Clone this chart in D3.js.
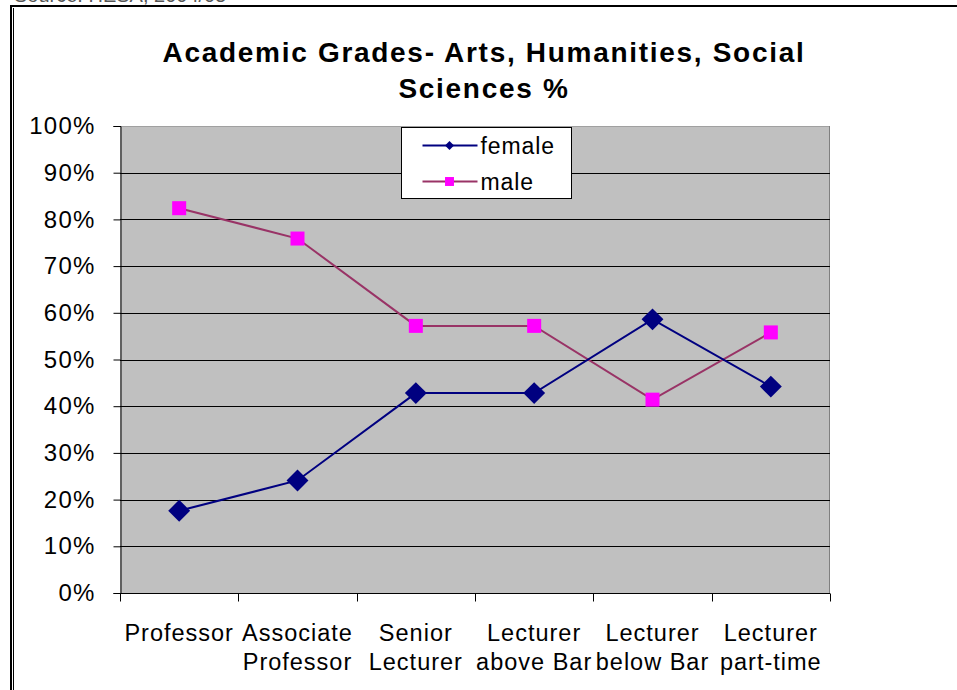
<!DOCTYPE html>
<html>
<head>
<meta charset="utf-8">
<script src="https://cdn.jsdelivr.net/npm/d3@7"></script>
<style>
  body { margin: 0; background: #fff; }
  svg { display: block; font-family: Arial, "Liberation Sans", sans-serif; }
</style>
</head>
<body>
<svg id="chart"></svg>
<script>
// Data
var categories = [["Professor"], ["Associate", "Professor"], ["Senior", "Lecturer"],
    ["Lecturer", "above Bar"], ["Lecturer", "below Bar"], ["Lecturer", "part-time"]]
var female = [17.6, 24.1, 42.8, 42.8, 58.6, 44.2]
var male = [82.4, 75.9, 57.2, 57.2, 41.4, 55.8]
var yTicks = [0, 10, 20, 30, 40, 50, 60, 70, 80, 90, 100]

// Size
var svgWidth = 957, svgHeight = 690
var plot = { left: 120, right: 830, top: 126, bottom: 593 }

var svg = d3.select('#chart')
    .attr("width", svgWidth)
    .attr("height", svgHeight)

// cut off source line and frame
svg.append("text")
    .attr("x", 14).attr("y", 2)
    .attr("font-size", 20).attr("fill", "#555")
    .text("Source: HESA, 2004/05")
svg.append("line").attr("x1", 10).attr("x2", svgWidth).attr("y1", 6).attr("y2", 6)
    .attr("stroke", "#000").attr("stroke-width", 2)
svg.append("line").attr("x1", 11).attr("x2", 11).attr("y1", 5).attr("y2", svgHeight)
    .attr("stroke", "#000").attr("stroke-width", 2)
svg.append("line").attr("x1", 13.5).attr("x2", 13.5).attr("y1", 8).attr("y2", svgHeight)
    .attr("stroke", "#000").attr("stroke-width", 1)

// Scales
var x = d3.scaleBand()
    .domain(d3.range(categories.length))
    .range([plot.left, plot.right])
var y = d3.scaleLinear()
    .domain([0, 100])
    .range([plot.bottom, plot.top])

// Plot area
svg.append("rect")
    .attr("x", plot.left).attr("y", plot.top)
    .attr("width", plot.right - plot.left).attr("height", plot.bottom - plot.top)
    .attr("fill", "#c0c0c0")
svg.append("line").attr("x1", plot.left).attr("x2", plot.right)
    .attr("y1", plot.top + 0.5).attr("y2", plot.top + 0.5).attr("stroke", "#a0a0a0")
svg.append("line").attr("x1", plot.right - 0.5).attr("x2", plot.right - 0.5)
    .attr("y1", plot.top).attr("y2", plot.bottom).attr("stroke", "#808080")

// Gridlines
svg.selectAll(".grid")
    .data(yTicks.filter((d) => d > 0 && d < 100))
    .enter()
    .append("line")
    .attr("class", "grid")
    .attr("x1", plot.left).attr("x2", plot.right)
    .attr("y1", (d) => Math.round(y(d)) + 0.5)
    .attr("y2", (d) => Math.round(y(d)) + 0.5)
    .attr("stroke", "#000")

// Y axis
var yAxis = d3.axisLeft(y)
    .tickValues(yTicks)
    .tickSize(7)
    .tickPadding(18)
    .tickFormat((d) => d + "%")
var gy = svg.append("g")
    .attr("transform", "translate(" + (plot.left + 0.5) + ",0)")
    .call(yAxis)
gy.selectAll("text").attr("font-size", 24).attr("letter-spacing", 1.2).attr("fill", "#000")
    .attr("font-family", "Arial, 'Liberation Sans', sans-serif")
gy.selectAll("line").attr("stroke", "#000")
gy.select(".domain").attr("stroke", "#000")

// X axis
var gx = svg.append("g")
    .attr("transform", "translate(0," + (plot.bottom + 0.5) + ")")
gx.append("line")
    .attr("x1", plot.left).attr("x2", plot.right)
    .attr("stroke", "#000")
gx.selectAll(".xtick")
    .data(d3.range(categories.length + 1))
    .enter()
    .append("line")
    .attr("class", "xtick")
    .attr("x1", (d) => Math.round(plot.left + d * x.step()) + 0.5)
    .attr("x2", (d) => Math.round(plot.left + d * x.step()) + 0.5)
    .attr("y1", 0).attr("y2", 8)
    .attr("stroke", "#000")

var labels = svg.selectAll(".xlabel")
    .data(categories)
    .enter()
    .append("text")
    .attr("class", "xlabel")
    .attr("text-anchor", "middle")
    .attr("font-size", 23.5)
    .attr("letter-spacing", 1)
    .attr("fill", "#000")
labels.selectAll("tspan")
    .data((d, i) => d.map((t, j) => ({ t: t, j: j, i: i })))
    .enter()
    .append("tspan")
    .attr("x", (d) => x(d.i) + x.bandwidth() / 2)
    .attr("y", (d) => 641 + d.j * 29)
    .text((d) => d.t)

// Lines
var line = d3.line()
    .x((d, i) => x(i) + x.bandwidth() / 2)
    .y((d) => y(d))

svg.append("path").datum(male)
    .attr("d", line).attr("fill", "none")
    .attr("stroke", "#993366").attr("stroke-width", 2)
svg.append("path").datum(female)
    .attr("d", line).attr("fill", "none")
    .attr("stroke", "#000080").attr("stroke-width", 2)

// Markers
var diamond = d3.symbol().type(d3.symbolSquare).size(240)
svg.selectAll(".fmark")
    .data(female)
    .enter()
    .append("path")
    .attr("class", "fmark")
    .attr("d", diamond)
    .attr("fill", "#000080")
    .attr("transform", (d, i) => "translate(" + (x(i) + x.bandwidth() / 2) + "," + y(d) + ") rotate(45)")

svg.selectAll(".mmark")
    .data(male)
    .enter()
    .append("rect")
    .attr("class", "mmark")
    .attr("x", (d, i) => x(i) + x.bandwidth() / 2 - 7)
    .attr("y", (d) => y(d) - 7)
    .attr("width", 14).attr("height", 14)
    .attr("fill", "#ff00ff")

// Title
var title = svg.append("text")
    .attr("text-anchor", "middle")
    .attr("font-size", 28)
    .attr("font-weight", "bold")
    .attr("letter-spacing", 1.7)
    .attr("fill", "#000")
title.append("tspan").attr("x", 484).attr("y", 62).text("Academic Grades- Arts, Humanities, Social")
title.append("tspan").attr("x", 484).attr("y", 98).text("Sciences %")

// Legend
var legend = svg.append("g").attr("transform", "translate(401.5,127.5)")
legend.append("rect")
    .attr("width", 170).attr("height", 71)
    .attr("fill", "#fff").attr("stroke", "#000")
var series = [
    { name: "female", color: "#000080", mark: "diamond" },
    { name: "male", color: "#993366", mark: "square" }
]
var item = legend.selectAll(".item")
    .data(series)
    .enter()
    .append("g")
    .attr("transform", (d, i) => "translate(0," + (18 + i * 36) + ")")
item.append("line")
    .attr("x1", 21).attr("x2", 76)
    .attr("stroke", (d) => d.color).attr("stroke-width", 2)
item.append("path")
    .attr("d", (d) => d3.symbol().type(d3.symbolSquare).size(d.mark == "diamond" ? 40 : 80)())
    .attr("fill", (d) => d.mark == "diamond" ? "#000080" : "#ff00ff")
    .attr("transform", (d) => "translate(48,0)" + (d.mark == "diamond" ? " rotate(45)" : ""))
item.append("text")
    .attr("x", 79).attr("y", 8)
    .attr("font-size", 23)
    .attr("letter-spacing", 0.9)
    .attr("fill", "#000")
    .text((d) => d.name)
</script>
</body>
</html>
